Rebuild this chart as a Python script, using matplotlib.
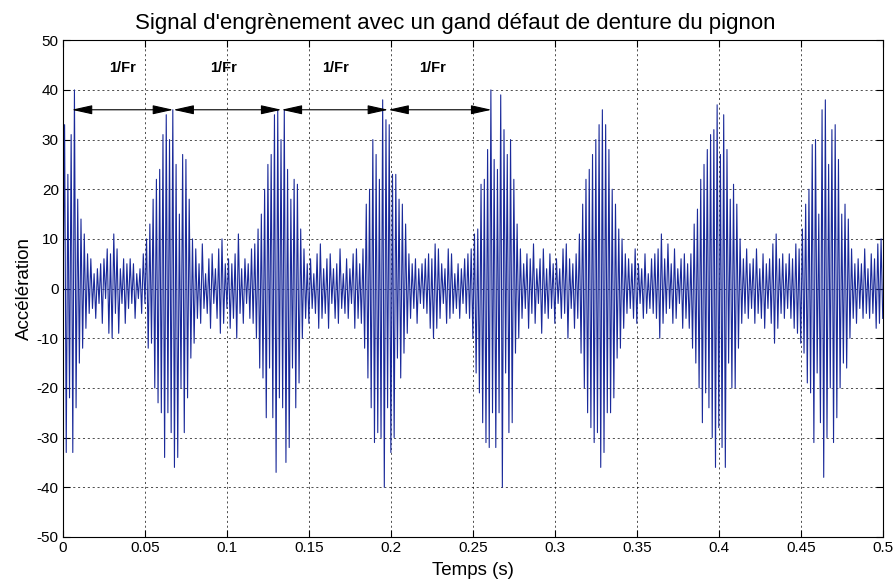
import numpy as np
import matplotlib
matplotlib.use("Agg")
import matplotlib.pyplot as plt

plt.rcParams['font.family'] = ['Liberation Sans', 'DejaVu Sans']
plt.rcParams['lines.scale_dashes'] = False
plt.rcParams['axes.unicode_minus'] = False

# sampled acceleration, one value per millisecond
dt = 0.001
accel = [
    -5, 33, -33, 23, -22, 31, -33, 40, -24, 18, -15, 14, -12, 11, -8, 7, -5, 6, -4, 3,
    -6, 4, -3, 5, -7, 6, -2, 8, -9, 7, -10, 11, -5, 8, -9, 4, -3, 6, -7, 5,
    -4, 6, -3, 5, -6, 3, -2, 4, -5, 7, -3, 10, -12, 13, -11, 18, -20, 22, -23, 24,
    -25, 31, -34, 35, -25, 30, -29, 36, -36, 25, -34, 15, -20, 27, -29, 26, -22, 18, -14, 10,
    -11, 8, -6, 5, -7, 9, -4, 3, -5, 6, -8, 7, -3, 4, -6, 8, -9, 10, -7, 5,
    -4, 6, -8, 5, -6, 7, -10, 11, -5, 4, -7, 6, -3, 5, -6, 8, -7, 9, -10, 12,
    -16, 15, -18, 20, -26, 25, -16, 27, -26, 35, -37, 36, -22, 30, -24, 36, -35, 24, -32, 18,
    -16, 22, -24, 21, -19, 12, -10, 8, -6, 5, -7, 6, -4, 3, -5, 7, -8, 9, -6, 4,
    -5, 6, -8, 7, -3, 4, -6, 5, -7, 8, -4, 3, -5, 6, -6, 4, -3, 7, -8, 8,
    -6, 5, -7, 8, -12, 17, -18, 20, -24, 30, -31, 27, -29, 22, -30, 38, -40, 34, -24, 33,
    -33, 23, -30, 23, -14, 18, -18, 17, -13, 13, -9, 7, -6, 5, -4, 6, -7, 4, -3, 5,
    -4, 6, -5, 7, -8, 6, -10, 9, -8, 8, -6, 5, -3, 4, -7, 8, -6, 7, -5, 3,
    -4, 5, -6, 4, -3, 6, -5, 7, -6, 8, -10, 11, -17, 12, -21, 21, -27, 22, -31, 28,
    -32, 40, -25, 26, -32, 24, -25, 39, -40, 32, -17, 27, -29, 30, -27, 22, -13, 13, -10, 8,
    -6, 5, -4, 7, -8, 6, -5, 9, -7, 4, -3, 6, -9, 8, -5, 4, -6, 7, -4, 5,
    -7, 6, -3, 4, -6, 8, -5, 9, -10, 6, -4, 5, -8, 7, -6, 11, -13, 17, -20, 22,
    -25, 24, -28, 27, -31, 30, -29, 33, -36, 36, -33, 33, -25, 28, -25, 20, -22, 17, -14, 12,
    -12, 10, -8, 7, -5, 6, -4, 5, -6, 8, -7, 5, -3, 4, -6, 7, -5, 3, -4, 6,
    -5, 7, -6, 8, -10, 11, -7, 6, -5, 9, -4, 5, -7, 8, -6, 4, -3, 6, -8, 7,
    -6, 5, -8, 7, -12, 13, -15, 16, -20, 22, -27, 25, -21, 28, -24, 31, -30, 32, -36, 37,
    -28, 27, -32, 35, -36, 28, -15, 18, -20, 21, -20, 17, -12, 10, -7, 6, -5, 8, -6, 5,
    -4, 6, -7, 8, -5, 4, -6, 7, -8, 5, -4, 6, -7, 9, -11, 11, -8, 6, -5, 7,
    -6, 5, -4, 7, -6, 6, -8, 9, -9, 8, -11, 12, -13, 17, -19, 20, -21, 29, -31, 30,
    -17, 15, -27, 36, -38, 38, -30, 25, -20, 32, -31, 33, -26, 26, -20, 15, -15, 17, -16, 14,
    -10, 8, -6, 5, -7, 6, -4, 5, -6, 8, -5, 4, -6, 7, -5, 6, -8, 9, -7, 10, -6,
]
t = np.arange(len(accel)) * dt

# one rotation of the pinion between successive shocks
shock_times = [0.0053, 0.0673, 0.1333, 0.1984, 0.2614]
arrow_level = 36
label_times = [0.0363, 0.0977, 0.166, 0.2256]
label_level = 44.4

fig = plt.figure(figsize=(8.93, 5.83), dpi=100)
ax = fig.add_axes([0.0705, 0.079, 0.918, 0.852])

ax.plot(t, accel, color='#1a2a9a', linewidth=0.8)

for a, b in zip(shock_times[:-1], shock_times[1:]):
    ax.annotate('', xy=(b, arrow_level), xytext=(a, arrow_level),
                arrowprops=dict(arrowstyle='<|-|>,head_length=0.9,head_width=0.2',
                                color='black', lw=0.8, mutation_scale=14,
                                shrinkA=0, shrinkB=0))
for x in label_times:
    ax.text(x, label_level, '1/Fr', ha='center', va='center',
            fontsize=10.5, fontweight='bold')

ax.set_xlim(0, 0.5)
ax.set_ylim(-50, 50)
ax.set_xticks(np.arange(0, 0.51, 0.05))
ax.set_xticklabels(['0', '0.05', '0.1', '0.15', '0.2', '0.25', '0.3', '0.35', '0.4', '0.45', '0.5'])
ax.set_yticks(np.arange(-50, 51, 10))
ax.tick_params(direction='in', top=True, right=True, length=5, width=0.8,
               labelsize=11, pad=3)
ax.grid(True, color='black', linestyle=(0, (1.5, 2)), linewidth=0.6, alpha=0.8)
for s in ax.spines.values():
    s.set_linewidth(0.8)

ax.set_title("Signal d'engrènement avec un gand défaut de denture du pignon",
             fontsize=16, pad=8, x=0.478)
ax.set_xlabel('Temps (s)', fontsize=13.5, labelpad=5)
ax.set_ylabel('Accélération', fontsize=13.5, labelpad=3)

fig.savefig('out.png', dpi=100)
